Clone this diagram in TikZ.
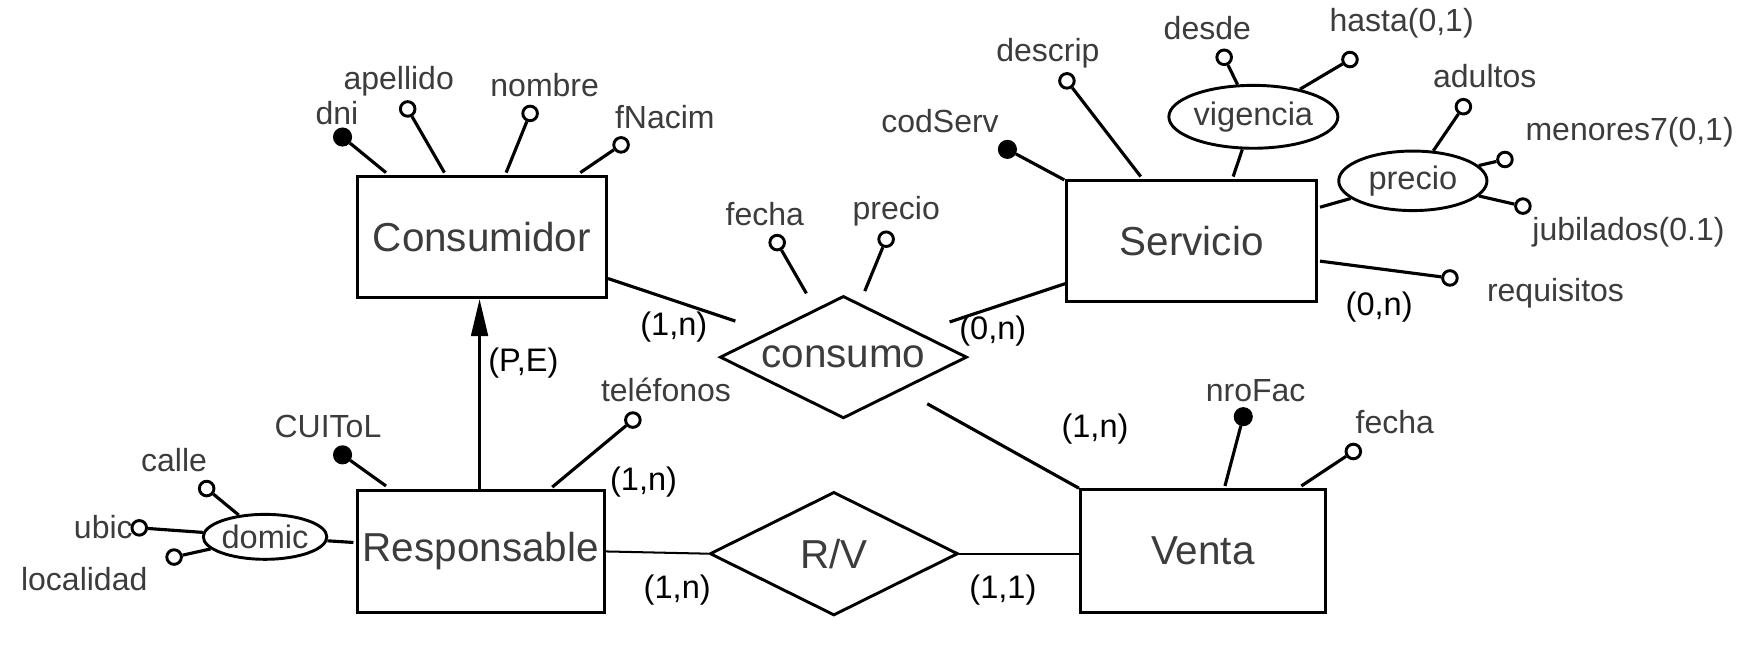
\documentclass[tikz,border=0pt]{standalone}
\usepackage{fontspec}
\setmainfont{Liberation Sans}
\usetikzlibrary{shapes.geometric,arrows.meta,calc}
\definecolor{txt}{HTML}{3C3C3C}
\begin{document}
\begin{tikzpicture}[x=1pt,y=-1pt,
 ent/.style={draw,line width=2.6pt,rectangle,inner sep=0pt,minimum width=222pt,minimum height=108pt,font=\fontsize{36}{40}\selectfont,text=txt},
 rel/.style={draw,diamond,aspect=2,line width=2.6pt,inner sep=0pt,minimum width=220pt,minimum height=110pt,font=\fontsize{36}{40}\selectfont,text=txt},
 comp/.style={draw,ellipse,line width=2.6pt,inner sep=0pt,font=\fontsize{29}{32}\selectfont,text=txt},
 att/.style={draw,circle,line width=2.6pt,minimum size=13pt,inner sep=0pt,fill=white},
 key/.style={draw,circle,line width=1pt,minimum size=16pt,inner sep=0pt,fill=black},
 lbl/.style={inner sep=0pt,font=\fontsize{28.5}{32}\selectfont,text=txt},
 card/.style={inner sep=0pt,font=\fontsize{29}{32}\selectfont,text=black},
 ln/.style={line width=2.8pt},
 thinln/.style={line width=1.8pt}]
\useasboundingbox (0,0) rectangle (1568,579);

% entities
\node[ent] (c) at (429,211) {Consumidor};
\node[ent] (s) at (1061,214.5) {Servicio};
\node[ent,minimum width=220pt] (r) at (428,491) {Responsable};
\node[ent,minimum width=218pt,minimum height=109pt] (v) at (1071,490.5) {Venta};

% relationships
\node[rel,minimum height=109pt] (co) at (751,318) {consumo};
\node[rel,minimum width=221pt] (rv) at (742.5,493) {R/V};

% composite attributes
\node[comp,minimum width=145pt,minimum height=56pt] (vig) at (1116,104) {vigencia};
\node[comp,minimum width=132pt,minimum height=53pt] (pre) at (1258,161) {precio};
\node[comp,minimum width=110pt,minimum height=40pt] (dom) at (236,478) {domic};

% Consumidor attributes
\node[key] (dni) at (305,122) {};
\node[lbl] (ldni) at (300,101) {dni};
\node[att] (ape) at (363,97) {};
\node[lbl] (lape) at (355,72) {apellido};
\node[att] (nom) at (472,101) {};
\node[lbl] (lnom) at (485,76) {nombre};
\node[att] (fna) at (553,129) {};
\node[lbl] (lfna) at (592,104) {fNacim};
\draw[ln] (dni) -- ([xshift=27pt,yshift=2pt]c.north west);
\draw[ln] (ape) -- ([xshift=79pt,yshift=2pt]c.north west);
\draw[ln] (nom) -- ([xshift=134pt,yshift=2pt]c.north west);
\draw[ln] (fna) -- ([xshift=200pt,yshift=2pt]c.north west);

% Servicio attributes
\node[key] (cod) at (897,133) {};
\node[lbl] (lcod) at (837,108) {codServ};
\node[att] (des) at (950,72) {};
\node[lbl] (ldes) at (933,47) {descrip};
\node[att] (dsd) at (1090,51) {};
\node[lbl] (ldsd) at (1075,25) {desde};
\node[att] (has) at (1202,53) {};
\node[lbl] (lhas) at (1248,21) {hasta(0,1)};
\node[att] (adu) at (1303,95) {};
\node[lbl] (ladu) at (1322,68) {adultos};
\node[att] (men) at (1340,142) {};
\node[lbl] (lmen) at (1451,118) {menores7(0,1)};
\node[att] (jub) at (1356,183.5) {};
\node[lbl] (ljub) at (1450,207) {jubilados(0.1)};
\node[att] (req) at (1291,247.5) {};
\node[lbl] (lreq) at (1385,261) {requisitos};
\draw[ln] (cod) -- ([xshift=-1pt,yshift=-1pt]s.north west);
\draw[ln] (des) -- ([xshift=67pt,yshift=2pt]s.north west);
\draw[ln] (vig) -- ([xshift=37pt,yshift=2pt]s.north);
\draw[ln] (dsd) -- (vig);
\draw[ln] (has) -- (vig);
\draw[ln] (pre) -- ([xshift=2pt,yshift=30pt]s.east);
\draw[ln] (adu) -- (pre);
\draw[ln] (men) -- (pre);
\draw[ln] (jub) -- (pre);
\draw[ln] (req) -- ([xshift=2pt,yshift=-18pt]s.east);
\node[card] (k8) at (1228,273) {(0,n)};

% consumo attributes
\node[att] (cfe) at (692,216) {};
\node[lbl] (lcfe) at (681,191) {fecha};
\node[att] (cpr) at (789,213) {};
\node[lbl] (lcpr) at (798,188) {precio};
\draw[ln] (cfe) -- ([xshift=-33pt,yshift=1pt]co.north);
\draw[ln] (cpr) -- ([xshift=19pt,yshift=3pt]co.north);

% consumo connectors
\draw[ln,shorten >=31pt] ([yshift=-37pt]c.east) -- (co);
\draw[ln,shorten >=29pt] ([yshift=-38pt]s.west) -- (co);
\draw[ln,shorten <=25pt] (co) -- (v.north west);
\node[card] (k1) at (600,291) {(1,n)};
\node[card] (k2) at (884,295) {(0,n)};
\node[card] (k3) at (975,382) {(1,n)};

% specialization arrow
\draw[line width=2.2pt,-{Triangle[length=33pt,width=15pt]}] ([xshift=-1pt]r.north) -- ([xshift=-1pt]r.north |- c.south);
\node[card] (k4) at (466,323) {(P,E)};

% Responsable attributes
\node[key] (cui) at (305,405) {};
\node[lbl] (lcui) at (292,380) {CUIToL};
\node[att] (tel) at (563.5,374) {};
\node[lbl] (ltel) at (593,347) {teléfonos};
\node[card] (k5) at (573,429) {(1,n)};
\draw[ln] (cui) -- ([xshift=27pt,yshift=3pt]r.north west);
\draw[ln] (tel) -- ([xshift=175pt,yshift=2pt]r.north west);
\node[att] (cal) at (184,435) {};
\node[lbl] (lcal) at (155,410) {calle};
\node[att] (ubi) at (124,470) {};
\node[lbl] (lubi) at (92,469) {ubic};
\node[att] (loc) at (155,496) {};
\node[lbl] (lloc) at (75,516) {localidad};
\draw[ln] (cal) -- (dom);
\draw[ln] (ubi) -- (dom);
\draw[ln] (loc) -- (dom);
\draw[ln] (dom) -- ([xshift=-2pt,yshift=8pt]r.west);

% R/V connectors
\draw[thinln] (r.east) -- (rv.west);
\draw[thinln] (rv.east) -- (rv.east -| v.west);
\node[card] (k6) at (603,525) {(1,n)};
\node[card] (k7) at (893,525) {(1,1)};

% Venta attributes
\node[key] (nro) at (1107,371) {};
\node[lbl] (lnro) at (1118,348) {nroFac};
\node[att] (vfe) at (1205,402) {};
\node[lbl] (lvfe) at (1242,376) {fecha};
\draw[ln] (nro) -- ([xshift=130pt,yshift=2pt]v.north west);
\draw[ln] (vfe) -- ([xshift=198pt,yshift=2pt]v.north west);
\end{tikzpicture}
\end{document}
